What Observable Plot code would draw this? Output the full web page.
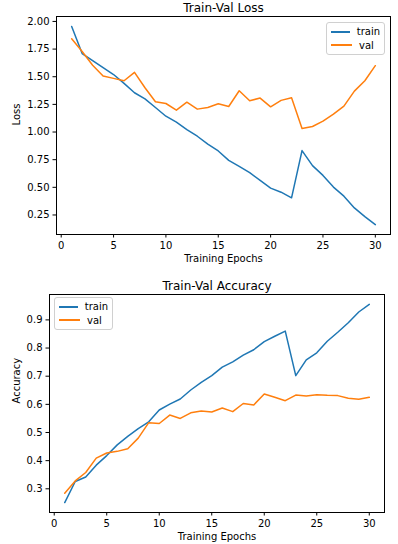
<!DOCTYPE html>
<html>
<head>
<meta charset="utf-8">
<script src="https://cdn.jsdelivr.net/npm/d3@7"></script>
<script src="https://cdn.jsdelivr.net/npm/@observablehq/plot@0.6"></script>
<style>
  body { margin: 0; background: white; font-family: "DejaVu Sans", sans-serif; }
  #wrap { position: relative; width: 398px; height: 544px; overflow: hidden; }
  .panel { position: absolute; left: 0; }
  .legend { position: absolute; border: 1px solid #d0d0d0; border-radius: 3px; background: rgba(255,255,255,0.8);
            font-size: 10px; color: black; box-sizing: border-box; padding: 2px 4px; }
  .legend .row { display: flex; align-items: center; height: 13.5px; }
  .legend .sw { width: 21px; height: 2px; margin-right: 7px; }
</style>
</head>
<body>
<div id="wrap"></div>
<script>
const epochs = d3.range(1, 31);
const trainLoss = [1.955, 1.71, 1.646, 1.582, 1.52, 1.44, 1.355, 1.30, 1.222, 1.143,
  1.089, 1.022, 0.962, 0.89, 0.829, 0.744, 0.69, 0.632, 0.562, 0.493,
  0.456, 0.405, 0.832, 0.696, 0.608, 0.502, 0.42, 0.314, 0.235, 0.163];
const valLoss = [1.843, 1.728, 1.604, 1.507, 1.485, 1.464, 1.54, 1.40, 1.274, 1.258,
  1.198, 1.27, 1.207, 1.222, 1.255, 1.231, 1.373, 1.283, 1.307, 1.228,
  1.286, 1.31, 1.031, 1.05, 1.098, 1.162, 1.234, 1.37, 1.464, 1.60];
const trainAcc = [0.251, 0.326, 0.342, 0.384, 0.418, 0.456, 0.486, 0.514, 0.538, 0.58,
  0.601, 0.619, 0.651, 0.678, 0.702, 0.732, 0.751, 0.775, 0.794, 0.823,
  0.842, 0.86, 0.702, 0.758, 0.783, 0.824, 0.856, 0.89, 0.928, 0.955];
const valAcc = [0.284, 0.328, 0.358, 0.409, 0.427, 0.433, 0.442, 0.48, 0.535, 0.532,
  0.562, 0.55, 0.57, 0.576, 0.573, 0.587, 0.574, 0.603, 0.598, 0.637,
  0.625, 0.613, 0.633, 0.63, 0.634, 0.632, 0.631, 0.622, 0.618, 0.625];
const xTicks = [0, 5, 10, 15, 20, 25, 30];
const lossTicks = [0.25, 0.5, 0.75, 1.0, 1.25, 1.5, 1.75, 2.0];
const accTicks = [0.3, 0.4, 0.5, 0.6, 0.7, 0.8, 0.9];
const seriesNames = ["train", "val"];
const colors = ["#1f77b4", "#ff7f0e"];

function pad(vals) {
  const lo = d3.min(vals), hi = d3.max(vals), p = (hi - lo) * 0.05;
  return [lo - p, hi + p];
}

function panel(opts) {
  const [a, b] = opts.series;
  const rowsA = epochs.map((e, i) => ({epoch: e, v: a[i]}));
  const rowsB = epochs.map((e, i) => ({epoch: e, v: b[i]}));
  return Plot.plot({
    width: 398, height: opts.height,
    marginLeft: opts.ml, marginRight: opts.mr, marginTop: opts.mt, marginBottom: opts.mb,
    style: {fontFamily: "DejaVu Sans", fontSize: "10px", color: "black", background: "white", overflow: "visible"},
    x: {domain: pad(epochs)},
    y: {domain: pad(a.concat(b))},
    marks: [
      Plot.axisX({ticks: xTicks, tickSize: 3.5, tickPadding: 3.5, label: null, stroke: "black", strokeOpacity: 1}),
      Plot.axisY({ticks: opts.yTicks, tickSize: 3.5, tickPadding: 3.5, label: null, tickFormat: opts.fmt, stroke: "black", strokeOpacity: 1}),
      Plot.line(rowsA, {x: "epoch", y: "v", stroke: colors[0], strokeWidth: 1.5}),
      Plot.line(rowsB, {x: "epoch", y: "v", stroke: colors[1], strokeWidth: 1.5}),
      Plot.frame({stroke: "black", strokeWidth: 1}),
      Plot.text([opts.title], {frameAnchor: "top", dy: opts.titleDy, lineAnchor: "bottom", fontSize: 12}),
      Plot.text(["Training Epochs"], {frameAnchor: "bottom", dy: 20, lineAnchor: "top", fontSize: 10}),
      Plot.text([opts.ylabel], {frameAnchor: "left", dx: opts.ylabelDx, rotate: -90, fontSize: 10})
    ]
  });
}

const wrap = document.getElementById("wrap");

const p1 = panel({
  series: [trainLoss, valLoss], height: 272, ml: 56, mr: 8, mt: 16, mb: 38,
  yTicks: lossTicks, fmt: d3.format(".2f"), title: "Train-Val Loss", titleDy: -5,
  ylabel: "Loss", ylabelDx: -40
});
p1.classList.add("panel"); p1.style.top = "0px";
wrap.appendChild(p1);

const p2 = panel({
  series: [trainAcc, valAcc], height: 272, ml: 49, mr: 14, mt: 22, mb: 32,
  yTicks: accTicks, fmt: d3.format(".1f"), title: "Train-Val Accuracy", titleDy: -5,
  ylabel: "Accuracy", ylabelDx: -33
});
p2.classList.add("panel"); p2.style.top = "272px";
wrap.appendChild(p2);

function legend(left, top, width) {
  const d = document.createElement("div");
  d.className = "legend";
  d.style.left = left + "px"; d.style.top = top + "px"; d.style.width = width + "px";
  seriesNames.forEach((n, i) => {
    const r = document.createElement("div"); r.className = "row";
    const s = document.createElement("div"); s.className = "sw"; s.style.background = colors[i];
    const t = document.createElement("span"); t.textContent = n;
    r.appendChild(s); r.appendChild(t); d.appendChild(r);
  });
  wrap.appendChild(d);
}
legend(326, 22, 59);
legend(54, 297, 59);
</script>
</body>
</html>
